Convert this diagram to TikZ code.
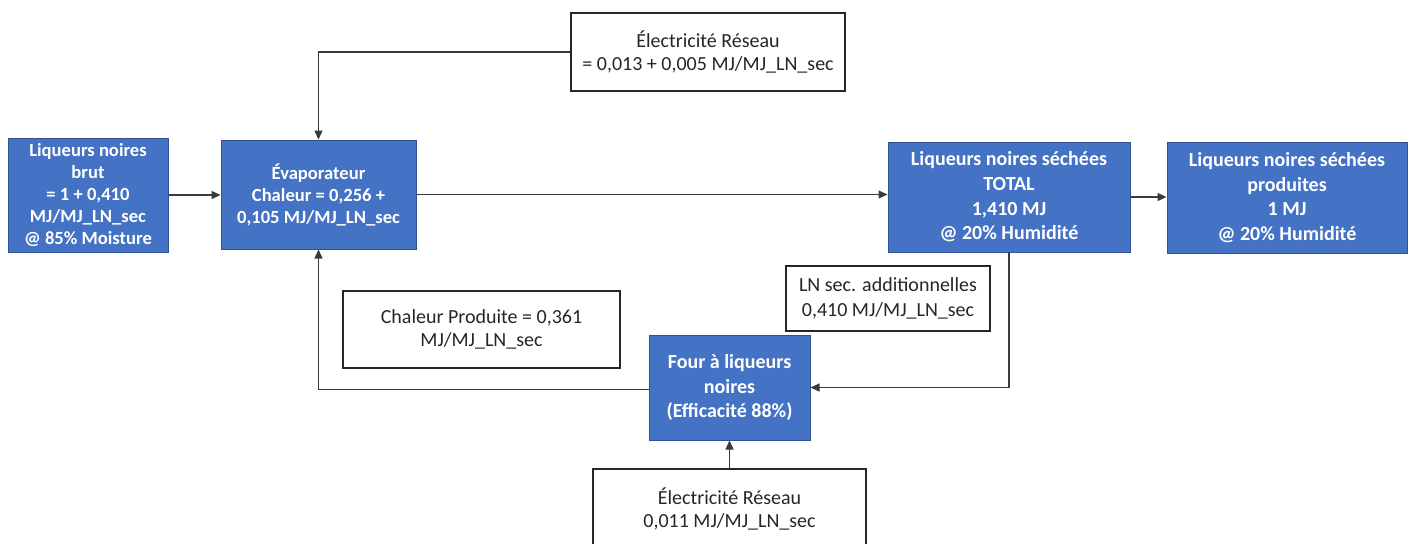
\documentclass[tikz,border=0pt]{standalone}
\usepackage{fontspec}
\setmainfont{Carlito}
\usetikzlibrary{arrows.meta}
\definecolor{boxblue}{HTML}{4472C4}
\definecolor{boxedge}{HTML}{2F528F}
\definecolor{linegray}{HTML}{3A3A3A}
\tikzset{
  bluebox/.style={draw=boxedge, line width=0.5pt, fill=boxblue, text=white, align=center, inner sep=0pt, font=\bfseries\fontsize{10}{12.3}\selectfont},
  smallblue/.style={bluebox, font=\bfseries\fontsize{9.3}{11}\selectfont},
  whitebox/.style={draw=black!85, line width=0.65pt, fill=white, text=black!85, align=center, inner sep=0pt, font=\fontsize{10}{11.4}\selectfont},
  conn/.style={draw=linegray, line width=0.65pt, -{Triangle[length=4.5pt, width=4pt]}},
}
\begin{document}
\begin{tikzpicture}[x=0.5pt, y=-0.5pt]
\clip (0,0) rectangle (1412,543);
\useasboundingbox (0,0) rectangle (1412,543);
\node[smallblue, minimum width=80pt, minimum height=57pt] (brut) at (88,195)
  {Liqueurs noires\\brut\\= 1 + 0,410\\MJ/MJ\_LN\_sec\\@ 85\% Moisture};
\node[smallblue, minimum width=97.5pt, minimum height=54.5pt] (evap) at (318.5,194.5)
  {Évaporateur\\Chaleur = 0,256 +\\0,105 MJ/MJ\_LN\_sec};
\node[bluebox, minimum width=121pt, minimum height=55pt] (total) at (1009,197)
  {Liqueurs noires séchées\\TOTAL\\1,410 MJ\\@ 20\% Humidité};
\node[bluebox, minimum width=120pt, minimum height=55.5pt] (prod) at (1287,197.5)
  {Liqueurs noires séchées\\produites\\1 MJ\\@ 20\% Humidité};
\node[whitebox, minimum width=137pt, minimum height=39pt] (elecA) at (708,52)
  {Électricité Réseau\\= 0,013 + 0,005 MJ/MJ\_LN\_sec};
\node[whitebox, minimum width=138.5pt, minimum height=38.5pt] (chal) at (481.5,329.5)
  {Chaleur Produite = 0,361\\MJ/MJ\_LN\_sec};
\node[whitebox, minimum width=102pt, minimum height=32.5pt, font=\fontsize{10}{12.4}\selectfont] (lnsec) at (888,298.5)
  {LN sec. additionnelles\\0,410 MJ/MJ\_LN\_sec};
\node[bluebox, minimum width=80.5pt, minimum height=52.5pt] (four) at (729.5,387.5)
  {Four à liqueurs\\noires\\(Efficacité 88\%)};
\node[whitebox, minimum width=136.5pt, minimum height=40pt] (elecB) at (729.5,509)
  {Électricité Réseau\\0,011 MJ/MJ\_LN\_sec};
\draw[conn] (brut.east) -- (brut.east -| evap.west);
\draw[conn] (evap.east) -- (evap.east -| total.west);
\draw[conn] (total.east) -- (total.east -| prod.west);
\draw[conn] (elecA.west) -| (evap.north);
\draw[conn] (total.south) |- (four.east);
\draw[conn] ([yshift=-1pt]four.west) -| (evap.south);
\draw[conn] (elecB.north) -- (four.south);
\end{tikzpicture}
\end{document}
